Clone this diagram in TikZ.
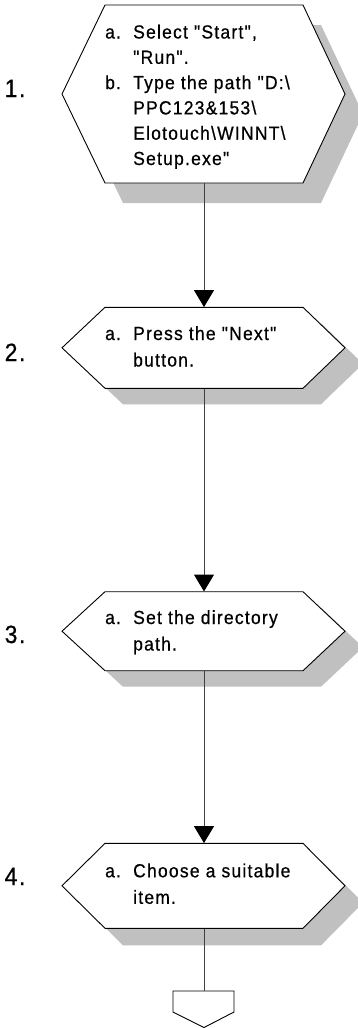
\documentclass[tikz,border=0pt]{standalone}
\usepackage{fontspec}
\setmainfont{Liberation Sans}[Ligatures=TeXOff, FakeStretch=0.92, LetterSpace=6.5, FakeBold=0.6]
\usetikzlibrary{arrows.meta}
\definecolor{shadowgray}{HTML}{C0C0C0}
\definecolor{linegray}{HTML}{404040}
\tikzset{
  hexline/.style={draw=black, line width=0.9pt, fill=white, line join=miter},
  hexanchor/.style={rectangle, inner sep=0pt, minimum width=198pt},
  steptext/.style={inner sep=0pt, anchor=base west, font=\fontsize{19}{26.5}\selectfont},
  numtext/.style={inner sep=0pt, anchor=base west, font=\fontsize{25}{30}\selectfont},
  conn/.style={draw=linegray, line width=1pt, -{Triangle[width=20pt,length=17pt,color=black]}},
  plainconn/.style={draw=linegray, line width=1pt},
}
\newcommand\hexshape[5]{%
  \fill[shadowgray] (105+#4,#2-#3+#5) -- (303+#4,#2-#3+#5) -- (345+#4,#2+#5) -- (303+#4,#2+#3+#5) -- (105+#4,#2+#3+#5) -- (62+#4,#2+#5) -- cycle;
  \path[hexline] (105,#2-#3) -- (303,#2-#3) -- (345,#2) -- (303,#2+#3) -- (105,#2+#3) -- (62,#2) -- cycle;
  \node[hexanchor, minimum height=2*#3] (#1) at (204,#2) {};
}
\newcommand\lbl[1]{\makebox[28pt][l]{#1}}
\begin{document}
\begin{tikzpicture}[x=1pt,y=-1pt]
\useasboundingbox (0,0) rectangle (358,1028);
\clip (0,0) rectangle (358,1028);
\fill[white] (0,0) rectangle (358,1028);

\hexshape{h1}{94}{89}{18}{20}
\hexshape{h2}{347.8}{40.5}{18}{16}
\hexshape{h3}{631.2}{39.5}{18}{16}
\hexshape{h4}{885.8}{42.5}{18}{17}

\node[steptext, font=\fontsize{19}{25.3}\selectfont] (t1) at (105,38.5) {\begin{tabular}[t]{@{}l@{}l@{}}\lbl{a.} & Select "Start",\\ & "Run".\\ \lbl{b.} & Type the path "D:\textbackslash\\ & PPC123\&153\textbackslash\\ & Elotouch\textbackslash WINNT\textbackslash\\ & Setup.exe"\end{tabular}};
\node[steptext] (t2) at (105,340) {\begin{tabular}[t]{@{}l@{}l@{}}\lbl{a.} & Press the "Next"\\ & button.\end{tabular}};
\node[steptext] (t3) at (105,624) {\begin{tabular}[t]{@{}l@{}l@{}}\lbl{a.} & Set the directory\\ & path.\end{tabular}};
\node[steptext] (t4) at (105,877.3) {\begin{tabular}[t]{@{}l@{}l@{}}\lbl{a.} & Choose a suitable\\ & item.\end{tabular}};

\node[numtext] (n1) at (4.5,97) {1.};
\node[numtext] (n2) at (4.5,361) {2.};
\node[numtext] (n3) at (4.5,643) {3.};
\node[numtext] (n4) at (4.5,885) {4.};

\path[hexline] (173,991) -- (234,991) -- (234,1012) -- (204,1027.5) -- (173,1012) -- cycle;
\coordinate (off) at (204,991);

\draw[conn] (h1.south) -- (h2.north);
\draw[conn] (h2.south) -- (h3.north);
\draw[conn] (h3.south) -- (h4.north);
\draw[plainconn] (h4.south) -- (off);
\end{tikzpicture}
\end{document}
